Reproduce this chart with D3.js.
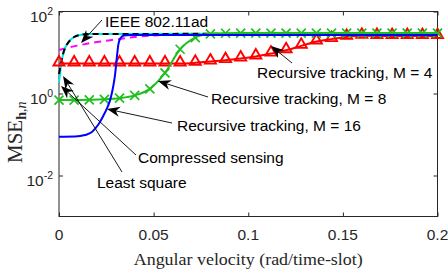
<!DOCTYPE html>
<html>
<head>
<meta charset="utf-8">
<script src="https://cdn.jsdelivr.net/npm/d3@7"></script>
<style>
body { margin: 0; background: #fff; }
svg { display: block; }
</style>
</head>
<body>
<svg id="chart" width="448" height="272"></svg>
<script>
// axis ticks
var xTicks = [0, 0.05, 0.1, 0.15, 0.2];
var yTicks = [1e-2, 1, 1e2];
var yTickExp = ["-2", "0", "2"];

// recursive tracking (markers every 0.008)
var rtX = [0, 0.008, 0.016, 0.024, 0.032, 0.04, 0.048, 0.056, 0.064, 0.072, 0.08, 0.088, 0.096,
           0.104, 0.112, 0.12, 0.128, 0.136, 0.144, 0.152, 0.16, 0.168, 0.176, 0.184, 0.192, 0.2];
var rtM4 = [5.4, 5.4, 5.4, 5.4, 5.4, 5.4, 5.4, 5.4, 5.4, 5.6, 6.0, 6.5, 7.1,
            8.0, 9.4, 11.3, 14.5, 18.5, 21.2, 24.0, 25.5, 25.3, 25.2, 25.2, 25.2, 25.2];
var rtM8 = [0.69, 0.69, 0.7, 0.72, 0.77, 0.9, 1.3, 3.2, 12, 23, 28.5, 29.5, 29.8,
            29.8, 29.8, 29.8, 29.8, 29.8, 29.8, 29.8, 29.8, 29.8, 29.8, 29.8, 29.8, 29.8];

// recursive tracking, M = 16
var m16X = [0, 0.0085, 0.0137, 0.0174, 0.0206, 0.0233, 0.0254, 0.027, 0.0285, 0.0296,
            0.0307, 0.0314, 0.0325, 0.0343, 0.0375, 0.2];
var m16Y = [0.088, 0.089, 0.097, 0.115, 0.17, 0.28, 0.44, 0.69, 1.36, 2.8,
            8.7, 16, 22.5, 26, 26.7, 26.7];

// IEEE 802.11ad
var ieeeX = [0, 0.005, 0.01, 0.02, 0.03, 0.04, 0.05, 0.06, 0.08, 0.2];
var ieeeY = [11.5, 13.2, 14.8, 18.0, 20.8, 23.9, 26, 27.5, 28.3, 28.3];

// compressed sensing
var csX = [0, 0.001, 0.002, 0.003, 0.004, 0.006, 0.008, 0.011, 0.016, 0.2];
var csY = [3.0, 5.2, 8.7, 12.2, 15.2, 20.2, 23.9, 26.7, 28.3, 28.7];

// least square
var lsX = [0, 0.0005, 0.001, 0.002, 0.003, 0.004, 0.006, 0.008, 0.011, 0.016, 0.2];
var lsY = [1.9, 2.8, 4.7, 8.2, 12.2, 15.2, 20.2, 23.9, 26.7, 28.3, 28.7];

// annotations: label, text pos, arrow tail, arrow tip (pixels)
var notes = [
  {t: "IEEE 802.11ad",              tx: 105, ty: 26.5,  ax: 102, ay: 20,  bx: 81,  by: 43},
  {t: "Recursive tracking, M = 4",  tx: 257, ty: 77.5,  ax: 292, ay: 63,  bx: 271, by: 46},
  {t: "Recursive tracking, M = 8",  tx: 211, ty: 103.5, ax: 208, ay: 97,  bx: 158, by: 81},
  {t: "Recursive tracking, M = 16", tx: 177, ty: 130.5, ax: 172, ay: 123, bx: 107, by: 109},
  {t: "Compressed sensing",         tx: 138, ty: 163,   ax: 136, ay: 155, bx: 61,  by: 86},
  {t: "Least square",               tx: 97,  ty: 187.5, ax: 122, ay: 172, bx: 63,  by: 76}
];

var svg = d3.select("#chart");
var pl = 59, pr = 437.5, pt = 11.5, pb = 216.5;
var x = d3.scaleLinear().domain([0, 0.2]).range([pl, pr]);
var y = d3.scaleLog().domain([1e-3, 1e2]).range([pb, pt]);
var sans = "'Liberation Sans', Arial, sans-serif";
var serif = "'Liberation Serif', 'Times New Roman', serif";
var axisCol = "#262626";

// ticks (inward) on all four sides
svg.append("g").attr("transform", "translate(0," + pb + ")")
  .call(d3.axisBottom(x).tickValues(xTicks).tickSize(-4).tickFormat(""));
svg.append("g").attr("transform", "translate(0," + pt + ")")
  .call(d3.axisTop(x).tickValues(xTicks).tickSize(-4).tickFormat(""));
svg.append("g").attr("transform", "translate(" + pl + ",0)")
  .call(d3.axisLeft(y).tickValues(yTicks).tickSize(-4).tickFormat(""));
svg.append("g").attr("transform", "translate(" + pr + ",0)")
  .call(d3.axisRight(y).tickValues(yTicks).tickSize(-4).tickFormat(""));
svg.selectAll(".domain").remove();
svg.selectAll(".tick line").attr("stroke", axisCol).attr("stroke-width", 1);

svg.append("rect").attr("x", pl).attr("y", pt)
  .attr("width", pr - pl).attr("height", pb - pt)
  .attr("fill", "none").attr("stroke", axisCol).attr("stroke-width", 1);

// tick labels
svg.selectAll("text.xt").data(xTicks).enter().append("text")
  .attr("x", d => x(d)).attr("y", 240)
  .attr("text-anchor", "middle").attr("font-family", sans).attr("font-size", 15.5)
  .attr("fill", axisCol).text(d => d);

var yt = svg.selectAll("text.yt").data(yTicks).enter().append("text")
  .attr("x", 53).attr("y", d => y(d) + 10.5)
  .attr("text-anchor", "end").attr("font-family", sans).attr("font-size", 15.5)
  .attr("fill", axisCol);
yt.append("tspan").text("10");
yt.append("tspan").attr("font-size", 10.5).attr("dy", -7).text((d, i) => yTickExp[i]);

// axis titles
svg.append("text").attr("x", (pl + pr) / 2).attr("y", 265)
  .attr("text-anchor", "middle").attr("font-family", serif).attr("font-size", 16)
  .attr("textLength", 229).attr("lengthAdjust", "spacingAndGlyphs")
  .attr("fill", axisCol).text("Angular velocity (rad/time-slot)");

var yl = svg.append("text").attr("transform", "translate(21.5,163) rotate(-90)")
  .attr("font-family", serif).attr("fill", axisCol);
yl.append("tspan").attr("font-size", 21).text("MSE");
yl.append("tspan").attr("font-size", 14).attr("font-weight", "bold").attr("dy", 4).text("h");
yl.append("tspan").attr("font-size", 14).text(",");
yl.append("tspan").attr("font-size", 14).attr("font-style", "italic").text("n");

// curves
var plot = svg.append("g");
function curve(xs, ys, col, dash) {
  var line = d3.line().x(d => x(d[0])).y(d => y(d[1])).curve(d3.curveMonotoneX);
  plot.append("path").datum(d3.zip(xs, ys)).attr("d", line)
    .attr("fill", "none").attr("stroke", col).attr("stroke-width", 2)
    .attr("stroke-dasharray", dash || null);
}
curve(ieeeX, ieeeY, "#ff00ff", "7,5");
curve(lsX, lsY, "#00e5ee");
curve(csX, csY, "#000000", "6,4");
curve(rtX, rtM4, "#ff0000");
plot.selectAll("path.tri").data(d3.zip(rtX, rtM4)).enter().append("path")
  .attr("d", "M0,-7.5L5.5,2L-5.5,2Z")
  .attr("transform", d => "translate(" + x(d[0]) + "," + y(d[1]) + ")")
  .attr("fill", "none").attr("stroke", "#ff0000").attr("stroke-width", 1.9)
  .attr("stroke-linejoin", "miter");
curve(rtX, rtM8, "#1fbf1f");
plot.selectAll("path.cross").data(d3.zip(rtX, rtM8)).enter().append("path")
  .attr("d", "M-4.5,-4.5L4.5,4.5M-4.5,4.5L4.5,-4.5")
  .attr("transform", d => "translate(" + x(d[0]) + "," + y(d[1]) + ")")
  .attr("fill", "none").attr("stroke", "#1fbf1f").attr("stroke-width", 1.7);
curve(m16X, m16Y, "#0000ff");

// annotation arrows and labels
var ann = svg.append("g");
notes.forEach(function(n) {
  var dx = n.bx - n.ax, dy = n.by - n.ay, len = Math.sqrt(dx * dx + dy * dy);
  var ux = dx / len, uy = dy / len, px = -uy, py = ux;
  var L = 13, W = 5, N = 9;
  ann.append("line").attr("x1", n.ax).attr("y1", n.ay)
    .attr("x2", n.bx - ux * N).attr("y2", n.by - uy * N)
    .attr("stroke", "#000").attr("stroke-width", 0.9);
  var pts = [
    [n.bx, n.by],
    [n.bx - ux * L + px * W, n.by - uy * L + py * W],
    [n.bx - ux * N, n.by - uy * N],
    [n.bx - ux * L - px * W, n.by - uy * L - py * W]
  ];
  ann.append("path").attr("d", "M" + pts.join("L") + "Z").attr("fill", "#000");
  ann.append("text").attr("x", n.tx).attr("y", n.ty)
    .attr("font-family", sans).attr("font-size", 15.5).attr("fill", "#000").text(n.t);
});
</script>
</body>
</html>
